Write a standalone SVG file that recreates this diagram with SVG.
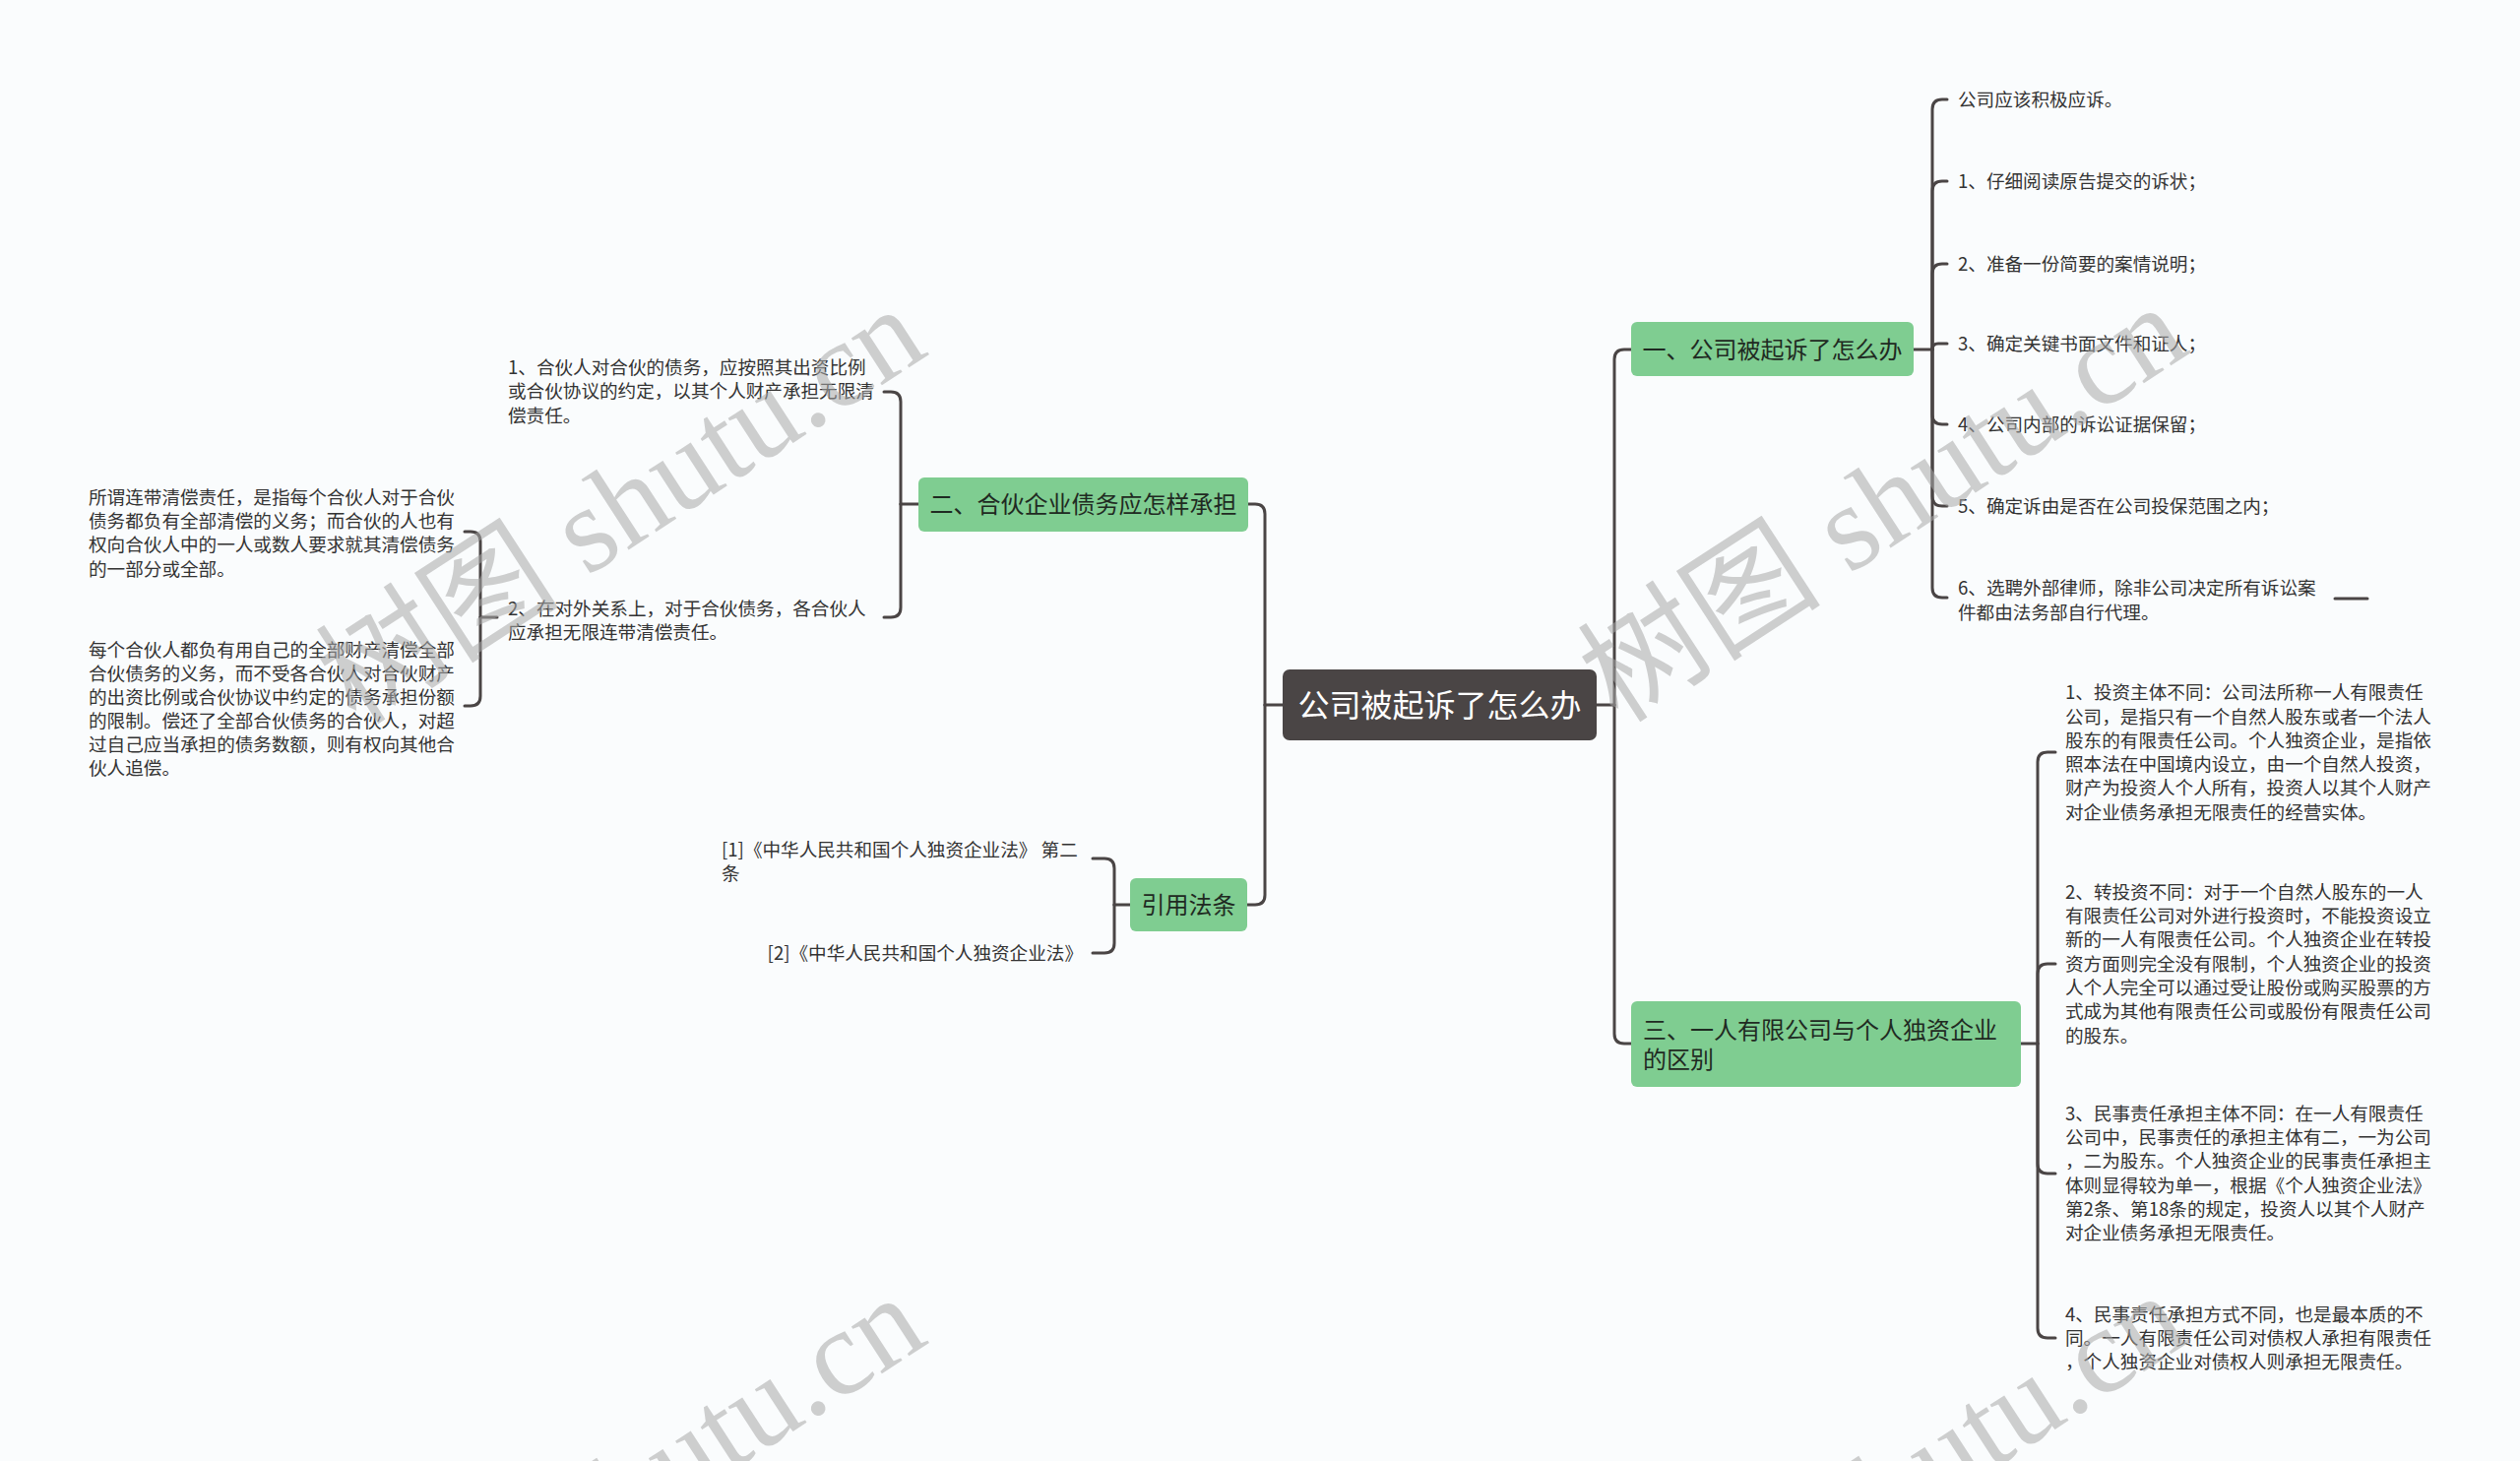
<svg xmlns="http://www.w3.org/2000/svg" width="2560" height="1484" viewBox="0 0 2560 1484">
<style>
.bg{fill:#fafcfd}
.ln{fill:none;stroke:#4a4545;stroke-width:3;stroke-linecap:round;stroke-linejoin:round}
.root{fill:#4a4545}
.rt{font-family:"Noto Sans CJK SC","Noto Sans",sans-serif;font-size:32px;fill:#ffffff}
.main{fill:#7fcd91}
.mt{font-family:"Noto Sans CJK SC","Noto Sans",sans-serif;font-size:24px;fill:#1f2a22}
.ct{font-family:"Noto Sans CJK SC","Noto Sans",sans-serif;font-size:18.6px;fill:#333333}
.wm{font-family:"Liberation Serif","Noto Sans CJK SC",serif;font-size:124px;fill:#a8a8a8;fill-opacity:0.55}
</style>
<rect class="bg" x="0" y="0" width="2560" height="1484"/>

<g id="connectors">
  <path class="ln" d="M1622,716 H1640"/>
  <path class="ln" d="M1640,716 V365 Q1640,355 1650,355 H1657"/>
  <path class="ln" d="M1640,716 V1050 Q1640,1060 1650,1060 H1657"/>
  <path class="ln" d="M1303,716 H1285"/>
  <path class="ln" d="M1285,716 V522 Q1285,512 1275,512 H1268"/>
  <path class="ln" d="M1285,716 V909 Q1285,919 1275,919 H1267"/>
  <path class="ln" d="M1944,355 H1963"/>
  <path class="ln" d="M1963,355 V111 Q1963,101 1973,101 H1978"/>
  <path class="ln" d="M1963,355 V194 Q1963,184 1973,184 H1978"/>
  <path class="ln" d="M1963,355 V278 Q1963,268 1973,268 H1978"/>
  <path class="ln" d="M1963,355 Q1963,349 1969,349 H1978"/>
  <path class="ln" d="M1963,355 V421 Q1963,431 1973,431 H1978"/>
  <path class="ln" d="M1963,355 V504 Q1963,514 1973,514 H1978"/>
  <path class="ln" d="M1963,355 V597 Q1963,607 1973,607 H1978"/>
  <path class="ln" d="M2372,608 H2405"/>
  <path class="ln" d="M2053,1060 H2070"/>
  <path class="ln" d="M2070,1060 V774 Q2070,764 2080,764 H2088"/>
  <path class="ln" d="M2070,1060 V989 Q2070,979 2080,979 H2088"/>
  <path class="ln" d="M2070,1060 V1182 Q2070,1192 2080,1192 H2088"/>
  <path class="ln" d="M2070,1060 V1349 Q2070,1359 2080,1359 H2088"/>
  <path class="ln" d="M933,512 H915"/>
  <path class="ln" d="M915,512 V408 Q915,398 905,398 H898"/>
  <path class="ln" d="M915,512 V617 Q915,627 905,627 H898"/>
  <path class="ln" d="M505,627 H488"/>
  <path class="ln" d="M488,627 V550 Q488,540 478,540 H472"/>
  <path class="ln" d="M488,627 V707 Q488,717 478,717 H472"/>
  <path class="ln" d="M1148,919 H1132"/>
  <path class="ln" d="M1132,919 V882 Q1132,872 1122,872 H1110"/>
  <path class="ln" d="M1132,919 V958 Q1132,968 1122,968 H1110"/>
</g>

<g id="root">
  <rect class="root" x="1303" y="680" width="319" height="72" rx="7"/>
  <text class="rt" x="1462.5" y="727.5" text-anchor="middle">公司被起诉了怎么办</text>
</g>

<g id="n1">
  <rect class="main" x="1657" y="327" width="287" height="55" rx="6"/>
  <text class="mt" x="1800.5" y="363.6" text-anchor="middle">一、公司被起诉了怎么办</text>
</g>
<g id="n1c0"><text class="ct" x="1989" y="107.7">公司应该积极应诉。</text></g>
<g id="n1c1"><text class="ct" x="1989" y="190.7">1、仔细阅读原告提交的诉状；</text></g>
<g id="n1c2"><text class="ct" x="1989" y="274.7">2、准备一份简要的案情说明；</text></g>
<g id="n1c3"><text class="ct" x="1989" y="355.7">3、确定关键书面文件和证人；</text></g>
<g id="n1c4"><text class="ct" x="1989" y="437.7">4、公司内部的诉讼证据保留；</text></g>
<g id="n1c5"><text class="ct" x="1989" y="520.7">5、确定诉由是否在公司投保范围之内；</text></g>
<g id="n1c6"><text class="ct" x="1989" y="604.2">6、选聘外部律师，除非公司决定所有诉讼案<tspan x="1989" dy="24.5">件都由法务部自行代理。</tspan></text></g>

<g id="n3">
  <rect class="main" x="1657" y="1017" width="396" height="87" rx="6"/>
  <text class="mt" x="1669" y="1054.6">三、一人有限公司与个人独资企业<tspan x="1669" dy="30.5">的区别</tspan></text>
</g>
<g id="n3c1"><text class="ct" x="2098" y="710.2">1、投资主体不同：公司法所称一人有限责任<tspan x="2098" dy="24.3">公司，是指只有一个自然人股东或者一个法人</tspan><tspan x="2098" dy="24.3">股东的有限责任公司。个人独资企业，是指依</tspan><tspan x="2098" dy="24.3">照本法在中国境内设立，由一个自然人投资，</tspan><tspan x="2098" dy="24.3">财产为投资人个人所有，投资人以其个人财产</tspan><tspan x="2098" dy="24.3">对企业债务承担无限责任的经营实体。</tspan></text></g>
<g id="n3c2"><text class="ct" x="2098" y="912.7">2、转投资不同：对于一个自然人股东的一人<tspan x="2098" dy="24.3">有限责任公司对外进行投资时，不能投资设立</tspan><tspan x="2098" dy="24.3">新的一人有限责任公司。个人独资企业在转投</tspan><tspan x="2098" dy="24.3">资方面则完全没有限制，个人独资企业的投资</tspan><tspan x="2098" dy="24.3">人个人完全可以通过受让股份或购买股票的方</tspan><tspan x="2098" dy="24.3">式成为其他有限责任公司或股份有限责任公司</tspan><tspan x="2098" dy="24.3">的股东。</tspan></text></g>
<g id="n3c3"><text class="ct" x="2098" y="1137.7">3、民事责任承担主体不同：在一人有限责任<tspan x="2098" dy="24.3">公司中，民事责任的承担主体有二，一为公司</tspan><tspan x="2098" dy="24.3">，二为股东。个人独资企业的民事责任承担主</tspan><tspan x="2098" dy="24.3">体则显得较为单一，根据《个人独资企业法》</tspan><tspan x="2098" dy="24.3">第2条、第18条的规定，投资人以其个人财产</tspan><tspan x="2098" dy="24.3">对企业债务承担无限责任。</tspan></text></g>
<g id="n3c4"><text class="ct" x="2098" y="1341.7">4、民事责任承担方式不同，也是最本质的不<tspan x="2098" dy="24.3">同。一人有限责任公司对债权人承担有限责任</tspan><tspan x="2098" dy="24.3">，个人独资企业对债权人则承担无限责任。</tspan></text></g>

<g id="n2">
  <rect class="main" x="933" y="485" width="335" height="55" rx="6"/>
  <text class="mt" x="1100.5" y="520.6" text-anchor="middle">二、合伙企业债务应怎样承担</text>
</g>
<g id="n2c1"><text class="ct" x="516" y="379.7">1、合伙人对合伙的债务，应按照其出资比例<tspan x="516" dy="24.4">或合伙协议的约定，以其个人财产承担无限清</tspan><tspan x="516" dy="24.4">偿责任。</tspan></text></g>
<g id="n2c2"><text class="ct" x="516" y="624.7">2、在对外关系上，对于合伙债务，各合伙人<tspan x="516" dy="24.4">应承担无限连带清偿责任。</tspan></text></g>
<g id="n2c2a"><text class="ct" x="90" y="511.7">所谓连带清偿责任，是指每个合伙人对于合伙<tspan x="90" dy="24.3">债务都负有全部清偿的义务；而合伙的人也有</tspan><tspan x="90" dy="24.3">权向合伙人中的一人或数人要求就其清偿债务</tspan><tspan x="90" dy="24.3">的一部分或全部。</tspan></text></g>
<g id="n2c2b"><text class="ct" x="90" y="666.7">每个合伙人都负有用自己的全部财产清偿全部<tspan x="90" dy="24">合伙债务的义务，而不受各合伙人对合伙财产</tspan><tspan x="90" dy="24">的出资比例或合伙协议中约定的债务承担份额</tspan><tspan x="90" dy="24">的限制。偿还了全部合伙债务的合伙人，对超</tspan><tspan x="90" dy="24">过自己应当承担的债务数额，则有权向其他合</tspan><tspan x="90" dy="24">伙人追偿。</tspan></text></g>

<g id="n4">
  <rect class="main" x="1148" y="892" width="119" height="54" rx="6"/>
  <text class="mt" x="1207.5" y="927.6" text-anchor="middle">引用法条</text>
</g>
<g id="n4c1"><text class="ct" x="733" y="869.7">[1]《中华人民共和国个人独资企业法》 第二<tspan x="733" dy="24.3">条</tspan></text></g>
<g id="n4c2"><text class="ct" x="1100" y="974.7" text-anchor="end">[2]《中华人民共和国个人独资企业法》</text></g>

<g id="watermarks">
  <text class="wm" transform="translate(362,738) rotate(-33)">树图 shutu.cn</text>
  <text class="wm" transform="translate(1644,736) rotate(-33)">树图 shutu.cn</text>
  <text class="wm" transform="translate(362,1742) rotate(-33)">树图 shutu.cn</text>
  <text class="wm" transform="translate(1644,1740) rotate(-33)">树图 shutu.cn</text>
</g>
</svg>
